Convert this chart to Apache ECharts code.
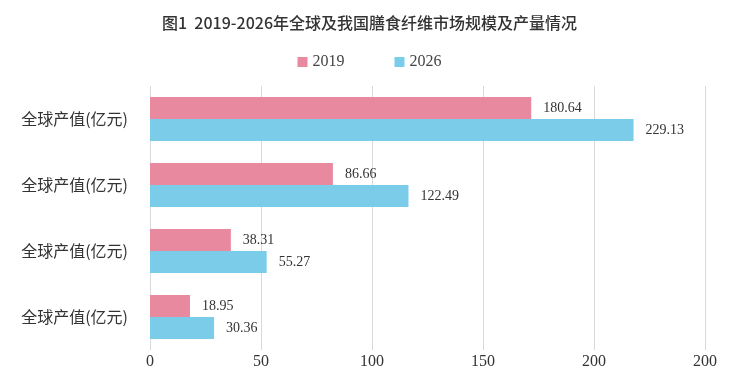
<!DOCTYPE html>
<html>
<head>
<meta charset="utf-8">
<script src="https://cdn.jsdelivr.net/npm/echarts@6/dist/echarts.min.js"></script>
<style>html,body{margin:0;padding:0;background:#fff;}#c{width:739px;height:380px;}</style>
</head>
<body>
<div id="c"></div>
<script>
const titleText = '图1  2019-2026年全球及我国膳食纤维市场规模及产量情况';
const categories = ['全球产值(亿元)', '全球产值(亿元)', '全球产值(亿元)', '全球产值(亿元)'];
const seriesNames = ['2019', '2026'];
const values2019 = [180.64, 86.66, 38.31, 18.95];
const values2026 = [229.13, 122.49, 55.27, 30.36];
const tickLabels = ['0', '50', '100', '150', '200', '200'];

const chart = echarts.init(document.getElementById('c'));
const serif = 'Liberation Serif';
const cjk = 'Noto Sans CJK SC';
chart.setOption({
  animation: false,
  backgroundColor: '#fff',
  title: {
    text: titleText, left: 'center', top: 10,
    textStyle: { fontFamily: cjk, fontSize: 16, fontWeight: 500, color: '#333' }
  },
  legend: {
    top: 49, left: 'center', itemWidth: 10, itemHeight: 10, itemGap: 50,
    icon: 'rect',
    textStyle: { fontFamily: serif, fontSize: 16, color: '#444' },
    data: seriesNames
  },
  grid: { left: 150, right: 34, top: 86, height: 264, containLabel: false },
  xAxis: [{
    type: 'value', min: 0, max: 250, interval: 50,
    axisLine: { show: false }, axisTick: { show: false },
    splitLine: { lineStyle: { color: '#d9d9d9', width: 1 } },
    axisLabel: {
      margin: 4, fontFamily: serif, fontSize: 16, color: '#333',
      formatter: function (v) { return tickLabels[Math.round(v / 50)]; }
    }
  }, {
    type: 'value', min: 0, max: 263, show: false
  }],
  yAxis: {
    type: 'category', inverse: true, data: categories,
    axisLine: { show: false }, axisTick: { show: false },
    axisLabel: { margin: 22, fontFamily: cjk, fontSize: 16, color: '#333' }
  },
  series: [{
    name: seriesNames[0], type: 'bar', xAxisIndex: 1, data: values2019,
    barWidth: 22, barGap: '0%',
    itemStyle: { color: '#E8899F' },
    label: { show: true, position: 'right', distance: 12, fontFamily: serif, fontSize: 14, color: '#333' }
  }, {
    name: seriesNames[1], type: 'bar', xAxisIndex: 1, data: values2026,
    barWidth: 22, barGap: '0%',
    itemStyle: { color: '#7BCCE9' },
    label: { show: true, position: 'right', distance: 12, fontFamily: serif, fontSize: 14, color: '#333' }
  }]
});
</script>
</body>
</html>
